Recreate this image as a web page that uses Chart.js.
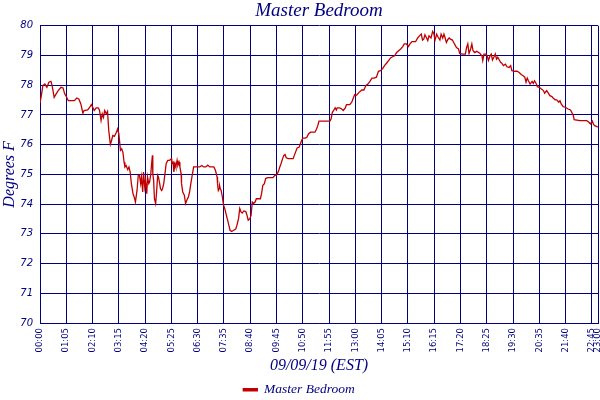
<!DOCTYPE html>
<html>
<head>
<meta charset="utf-8">
<script src="https://cdn.jsdelivr.net/npm/chart.js@4"></script>
<style>
  body { margin: 0; background: #fff; }
  #wrap { width: 600px; height: 400px; }
</style>
</head>
<body>
<div id="wrap"><canvas id="chart" width="600" height="400"></canvas></div>
<script>
// minutes after midnight
const minutes = [
    0, 4, 7, 12, 17, 22, 27, 30, 35, 40, 45, 52, 57, 61, 65, 70, 85, 91, 96, 101,
    106, 109, 118, 124, 127, 131, 134, 139, 144, 147, 151, 154, 157, 160, 164, 167, 170, 174, 177, 180,
    184, 189, 192, 195, 199, 202, 205, 208, 210, 213, 217, 220, 223, 226, 230, 233, 236, 240, 243, 246,
    249, 251, 254, 256, 259, 261, 264, 266, 269, 271, 274, 276, 278, 279, 281, 283, 286, 288, 291, 293,
    296, 298, 301, 303, 306, 309, 312, 316, 320, 325, 326, 329, 331, 334, 336, 339, 341, 344, 346, 349,
    350, 353, 357, 360, 363, 367, 370, 373, 377, 380, 385, 395, 400, 405, 410, 415, 420, 430, 434, 438,
    439, 441, 443, 444, 446, 448, 451, 454, 457, 461, 464, 467, 470, 474, 479, 484, 487, 491, 494, 497,
    500, 504, 509, 512, 515, 519, 522, 525, 528, 532, 535, 545, 548, 551, 555, 558, 563, 576, 581, 586,
    590, 593, 596, 600, 603, 606, 609, 614, 626, 629, 632, 636, 641, 644, 647, 650, 656, 660, 664, 669,
    680, 684, 687, 690, 717, 720, 723, 727, 730, 733, 735, 741, 746, 750, 755, 758, 766, 771, 774, 778,
    781, 784, 789, 796, 801, 806, 811, 816, 821, 826, 832, 837, 842, 847, 852, 857, 862, 867, 872, 877,
    882, 887, 892, 897, 901, 906, 911, 915, 920, 929, 934, 939, 943, 946, 949, 952, 956, 959, 962, 967,
    971, 974, 977, 981, 984, 989, 992, 996, 999, 1002, 1005, 1009, 1012, 1015, 1020, 1025, 1030, 1035, 1038, 1045,
    1052, 1055, 1058, 1061, 1065, 1068, 1071, 1075, 1080, 1085, 1088, 1093, 1095, 1098, 1103, 1106, 1109, 1113, 1116, 1119,
    1123, 1126, 1129, 1132, 1136, 1139, 1142, 1146, 1151, 1155, 1160, 1164, 1167, 1174, 1180, 1185, 1190, 1195, 1199, 1202,
    1205, 1208, 1212, 1217, 1220, 1223, 1227, 1230, 1235, 1240, 1245, 1248, 1253, 1256, 1261, 1266, 1269, 1274, 1278, 1283,
    1286, 1289, 1294, 1299, 1306, 1312, 1319, 1321, 1335, 1352, 1357, 1361, 1366, 1369, 1372, 1377, 1380
];

// degrees F
const temps = [
    77.40, 77.71, 77.99, 78.04, 77.93, 78.10, 78.13, 77.99, 77.59, 77.71, 77.82, 77.93, 77.91, 77.71, 77.62, 77.48, 77.48, 77.57, 77.54, 77.37,
    77.06, 77.15, 77.17, 77.28, 77.35, 77.24, 77.15, 77.24, 77.24, 77.17, 76.81, 77.04, 76.92, 77.15, 77.04, 77.12, 76.48, 76.01, 76.14, 76.31,
    76.28, 76.42, 76.53, 76.36, 75.81, 75.86, 75.75, 75.41, 75.25, 75.30, 75.16, 75.25, 75.08, 74.69, 74.35, 74.24, 74.07, 74.46, 74.97, 74.97,
    74.69, 74.91, 74.41, 75.08, 74.58, 74.80, 74.35, 74.91, 74.69, 74.74, 75.02, 75.36, 75.64, 75.02, 74.80, 74.18, 74.02, 74.35, 74.97, 74.91,
    74.69, 74.52, 74.46, 74.52, 74.69, 75.02, 75.36, 75.47, 75.47, 75.53, 75.36, 75.41, 75.08, 75.36, 75.25, 75.47, 75.30, 75.41, 75.25, 75.02,
    74.69, 74.41, 74.30, 74.02, 74.13, 74.24, 74.41, 74.69, 75.02, 75.25, 75.25, 75.25, 75.30, 75.25, 75.25, 75.31, 75.25, 75.25, 75.13, 74.91,
    74.69, 74.46, 74.52, 74.63, 74.52, 74.46, 74.24, 73.96, 73.85, 73.62, 73.46, 73.29, 73.12, 73.08, 73.12, 73.16, 73.29, 73.51, 73.85, 73.74,
    73.70, 73.77, 73.75, 73.62, 73.46, 73.51, 73.62, 74.07, 74.02, 74.07, 74.18, 74.18, 74.35, 74.63, 74.69, 74.86, 74.89, 74.89, 74.97, 75.00,
    75.11, 75.25, 75.36, 75.53, 75.64, 75.67, 75.56, 75.53, 75.53, 75.64, 75.75, 75.89, 75.92, 76.03, 76.14, 76.22, 76.22, 76.25, 76.36, 76.42,
    76.42, 76.53, 76.64, 76.79, 76.79, 76.87, 77.09, 77.17, 77.24, 77.17, 77.24, 77.24, 77.20, 77.15, 77.24, 77.35, 77.35, 77.43, 77.54, 77.68,
    77.65, 77.68, 77.76, 77.84, 77.84, 77.99, 78.04, 78.13, 78.24, 78.24, 78.27, 78.47, 78.49, 78.55, 78.66, 78.74, 78.83, 78.92, 78.96, 78.99,
    79.10, 79.16, 79.22, 79.30, 79.39, 79.39, 79.30, 79.39, 79.47, 79.47, 79.59, 79.67, 79.72, 79.52, 79.55, 79.70, 79.59, 79.50, 79.66, 79.59,
    79.81, 79.74, 79.52, 79.72, 79.63, 79.52, 79.72, 79.59, 79.72, 79.59, 79.44, 79.55, 79.59, 79.55, 79.52, 79.39, 79.27, 79.22, 79.07, 79.05,
    79.05, 79.27, 79.39, 79.07, 79.22, 79.39, 79.16, 79.10, 79.14, 79.10, 79.07, 78.99, 78.83, 79.05, 79.05, 78.99, 78.83, 78.99, 79.05, 78.85,
    78.96, 79.05, 78.88, 78.94, 78.85, 78.77, 78.74, 78.66, 78.71, 78.62, 78.60, 78.66, 78.49, 78.47, 78.47, 78.43, 78.36, 78.32, 78.27, 78.10,
    78.24, 78.15, 78.04, 78.13, 78.06, 78.15, 78.06, 77.95, 77.93, 77.87, 77.82, 77.73, 77.82, 77.76, 77.65, 77.62, 77.57, 77.51, 77.51, 77.43,
    77.48, 77.37, 77.28, 77.26, 77.20, 77.17, 76.98, 76.84, 76.81, 76.81, 76.76, 76.70, 76.79, 76.68, 76.64, 76.61, 76.60
];

// x tick positions in minutes (every 65 min, then the end of the day shown)
const timeTicks = [0, 65, 130, 195, 260, 325, 390, 455, 520, 585, 650, 715, 780, 845,
    910, 975, 1040, 1105, 1170, 1235, 1300, 1365, 1380];
const tempTicks = [70, 71, 72, 73, 74, 75, 76, 77, 78, 79, 80];

const seriesName = 'Master Bedroom';
const navy = '#000080';
const red = '#c00000';

function fmtTime(m) {
    const h = Math.floor(m / 60);
    const mm = m % 60;
    return String(h).padStart(2, '0') + ':' + String(mm).padStart(2, '0');
}

const points = minutes.map((m, i) => ({ x: m, y: temps[i] }));

const ctx = document.getElementById('chart').getContext('2d');
new Chart(ctx, {
    type: 'line',
    data: {
        datasets: [{
            label: seriesName,
            data: points,
            borderColor: red,
            backgroundColor: red,
            borderWidth: 1.3,
            pointRadius: 0,
            tension: 0,
            fill: false
        }]
    },
    options: {
        responsive: false,
        animation: false,
        devicePixelRatio: 1,
        layout: { padding: { left: 0, right: 2, top: 0, bottom: 0 } },
        scales: {
            x: {
                type: 'linear',
                min: 0,
                max: 1380,
                afterBuildTicks: (scale) => {
                    scale.ticks = timeTicks.map(v => ({ value: v }));
                },
                afterFit: (scale) => {
                    // rotated end labels would otherwise pull the plot in
                    scale.height = 50;
                    scale.paddingRight = 0;
                    scale.paddingLeft = 0;
                },
                grid: { color: navy, lineWidth: 1, drawTicks: false },
                border: { color: navy, width: 1 },
                ticks: {
                    autoSkip: false,
                    minRotation: 90,
                    maxRotation: 90,
                    padding: 5,
                    color: navy,
                    font: { family: 'DejaVu Sans', size: 8.5 },
                    callback: (v) => fmtTime(v)
                },
                title: {
                    display: true,
                    text: '09/09/19 (EST)',
                    color: navy,
                    padding: { top: 0, bottom: -2 },
                    font: { family: 'Liberation Serif', style: 'italic', size: 16 }
                }
            },
            y: {
                min: 70,
                max: 80,
                afterBuildTicks: (scale) => {
                    scale.ticks = tempTicks.map(v => ({ value: v }));
                },
                afterFit: (scale) => { scale.width = 40; },
                grid: { color: navy, lineWidth: 1, drawTicks: false },
                border: { color: navy, width: 1 },
                ticks: {
                    padding: 7,
                    color: navy,
                    font: { family: 'DejaVu Sans', style: 'italic', size: 10 }
                },
                title: {
                    display: true,
                    text: 'Degrees F',
                    color: navy,
                    padding: { top: 0, bottom: 0 },
                    font: { family: 'Liberation Serif', style: 'italic', size: 16 }
                }
            }
        },
        plugins: {
            title: {
                display: true,
                fullSize: false,
                text: seriesName,
                color: navy,
                padding: { top: 0, bottom: 3 },
                font: { family: 'Liberation Serif', style: 'italic', size: 19, weight: 'normal' }
            },
            legend: {
                position: 'bottom',
                maxHeight: 27,
                labels: {
                    color: navy,
                    boxWidth: 14,
                    boxHeight: 2,
                    padding: 10,
                    font: { family: 'Liberation Serif', style: 'italic', size: 13.5 }
                }
            },
            tooltip: { enabled: false }
        }
    }
});
</script>
</body>
</html>
